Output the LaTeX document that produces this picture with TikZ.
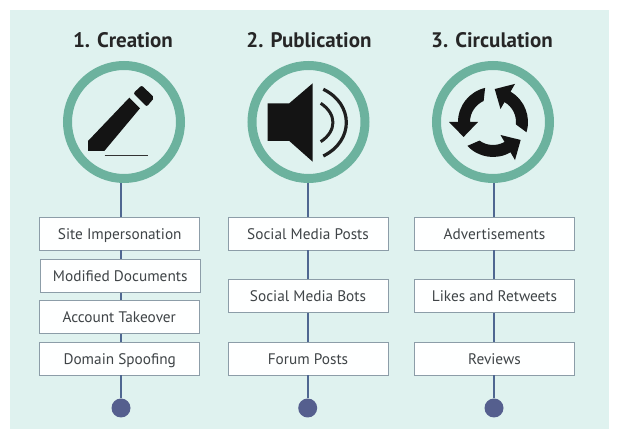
\documentclass[tikz,border=0pt]{standalone}
\usepackage{fontspec}
\setmainfont{PT Sans}
\usetikzlibrary{positioning}
\definecolor{panelbg}{HTML}{DFF2EF}
\definecolor{ringgreen}{HTML}{6CB29E}
\definecolor{stemblue}{HTML}{4F6791}
\definecolor{dotblue}{HTML}{555F8E}
\definecolor{boxedge}{HTML}{8C9DA8}
\definecolor{labelgrey}{HTML}{3F4447}

\begin{document}
\begin{tikzpicture}[
    x=1pt, y=1pt,
    heading/.style={font=\fontsize{21}{25}\selectfont\bfseries, text=black!85},
    ring/.style={circle, draw=ringgreen, line width=9pt, minimum size=113pt, inner sep=0pt},
    itembox/.style={draw=boxedge, line width=0.9pt, fill=white!97!panelbg, minimum width=160pt,
                    minimum height=33pt, inner sep=0pt, text=labelgrey, text height=13pt, text depth=1.5pt,
                    font=\fontsize{15.3}{18}\selectfont},
    stem/.style={draw=stemblue, line width=2.4pt},
    enddot/.style={circle, fill=dotblue, minimum size=19pt, inner sep=0pt},
    glyph/.style={fill=black!92, draw=none},
]
  \useasboundingbox (0,0) rectangle (622,444);
  \fill[panelbg] (10,15) rectangle (609,434);

  % headings and rings
  \node[heading] (head1) at (123,404) {1. Creation};
  \node[heading] (head2) at (309,404) {2. Publication};
  \node[heading] (head3) at (492,404) {3. Circulation};
  \node[ring] (ring1) at (124,322) {};
  \node[ring] (ring2) at (308.5,322) {};
  \node[ring] (ring3) at (493,322) {};

  % first column
  \node[itembox] (box11) at (119.75,210.5) {Site Impersonation};
  \node[itembox] (box12) at (120.25,168) {Modified Documents};
  \node[itembox] (box13) at (119.25,127) {Account Takeover};
  \node[itembox] (box14) at (119.75,85.5) {Domain Spoofing};
  \node[enddot] (dot1) at (121,36) {};

  % second column
  \node[itembox] (box21) at (308,210.5) {Social Media Posts};
  \node[itembox] (box22) at (308,148) {Social Media Bots};
  \node[itembox] (box23) at (308,85.5) {Forum Posts};
  \node[enddot] (dot2) at (307.7,36) {};

  % third column
  \node[itembox] (box31) at (494.5,210.5) {Advertisements};
  \node[itembox] (box32) at (494.5,148) {Likes and Retweets};
  \node[itembox] (box33) at (494.5,85.5) {Reviews};
  \node[enddot] (dot3) at (494,36) {};

  \foreach \d/\i/\j in {dot1/ring1/box11, dot1/box11/box12, dot1/box12/box13, dot1/box13/box14, dot1/box14/dot1,
                        dot2/ring2/box21, dot2/box21/box22, dot2/box22/box23, dot2/box23/dot2,
                        dot3/ring3/box31, dot3/box31/box32, dot3/box32/box33, dot3/box33/dot3}
    \draw[stem] (\d |- \i.south) -- (\d |- \j.north);

  % pencil
  \fill[glyph] (88,293) -- (88,303) -- (129.3,346.3) -- (140,335.7) -- (104.3,293) -- cycle;
  \fill[glyph, rounded corners=2pt] (141.7,358.7) -- (154.3,346.3) -- (146.7,337.3) -- (133.3,350.7) -- cycle;
  \draw[black!80, line width=0.9pt] (104.7,288.7) -- (147.7,288.7);

  % speaker
  \fill[glyph] (267.7,340.7) -- (289.3,340.7) -- (312.7,360.7) -- (312.7,282.3) -- (289.3,303) -- (267.7,303) -- cycle;
  \draw[black!88, line width=3pt] (320.7,340.7) .. controls (337,330) and (337,313) .. (320.7,302.3);
  \draw[black!88, line width=3.2pt] (323.3,354.7) .. controls (354,340) and (354,303) .. (323.3,288);

  % circulation arrows
  \foreach \a in {0,120,240} {
    \fill[glyph, shift={(493,322)}, rotate=\a]
      (103:35) arc[start angle=103, end angle=180, radius=35] -- (180:44) -- (207:33) -- (180:15)
      -- (180:23) arc[start angle=180, end angle=114, radius=23] -- cycle;
  }
\end{tikzpicture}
\end{document}
